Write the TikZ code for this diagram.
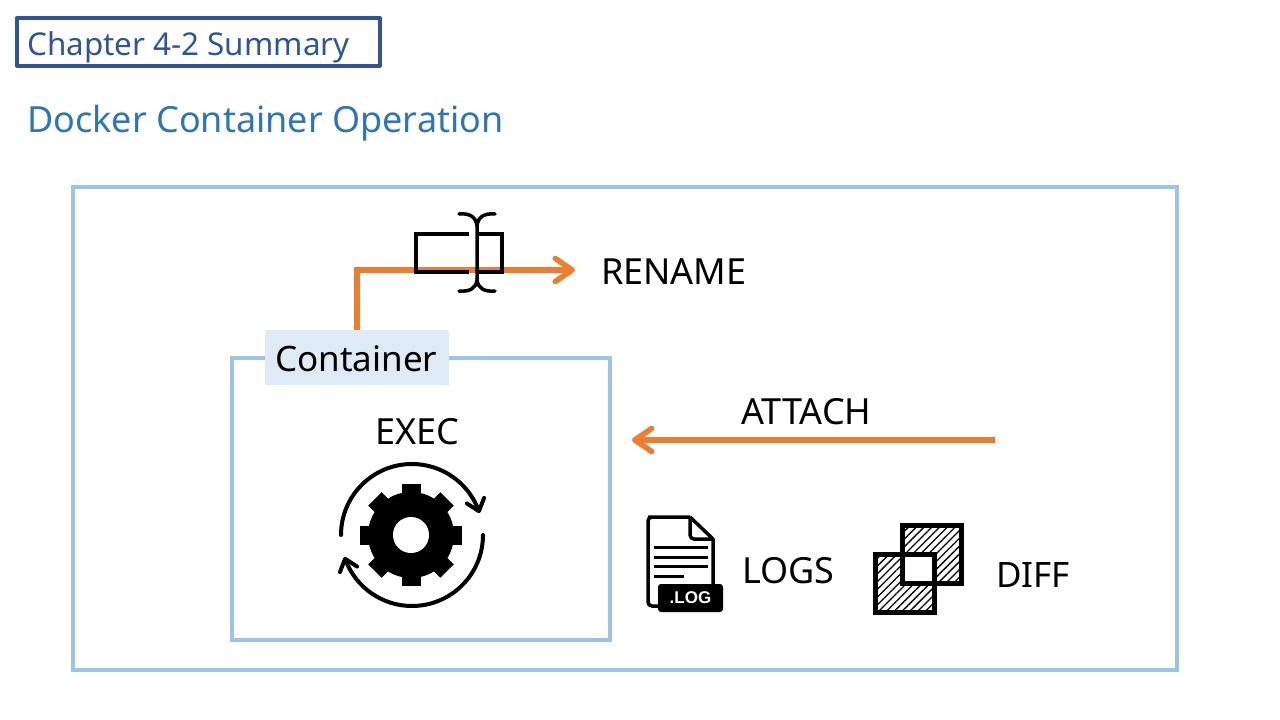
\documentclass[tikz,border=0pt]{standalone}
\usepackage{fontspec}
\setmainfont{Noto Sans}
\newfontfamily\logfont{Liberation Sans}
\usetikzlibrary{arrows.meta,bending,calc,patterns.meta}
\definecolor{frameblue}{HTML}{9DC3E6}
\definecolor{titleblue}{HTML}{2F5597}
\definecolor{headblue}{HTML}{2E75B6}
\definecolor{labelblue}{HTML}{DEEBF7}
\definecolor{arroworange}{HTML}{ED7D31}
\tikzset{
  frame/.style={draw=frameblue,line width=4.2pt,outer sep=0pt},
  flow/.style={draw=arroworange,line width=5.5pt,-{Straight Barb[length=17pt,width=23pt,line width=5.5pt,round]}},
  word/.style={inner sep=0pt,font=\fontsize{36}{42}\selectfont},
  spin/.style={line width=4pt,line cap=round,-{Straight Barb[length=11pt,width=18pt,line width=4pt,round,flex=0]}},
  hatch/.style={pattern={Lines[angle=45,distance=5.5pt,line width=1.3pt]}},
}
\begin{document}
\begin{tikzpicture}[x=1pt,y=-1pt]
\useasboundingbox (0,0) rectangle (1280,720);
\node[draw=titleblue,line width=4pt,line join=round,outer sep=0pt,minimum width=363pt,minimum height=47.5pt,anchor=north west] at (17,18) (chap) {};
\node[anchor=mid west,inner sep=0pt,text=titleblue,font=\fontsize{31.4}{38}\selectfont] at (27,53) (chaptxt) {Chapter 4-2 Summary};
\node[anchor=mid west,inner sep=0pt,text=headblue,font=\fontsize{36}{44}\selectfont] at (27,130) (head) {Docker Container Operation};
\node[frame,minimum width=1103.7pt,minimum height=482.4pt,anchor=north west] at (73.3,187.3) (outer) {};
\node[frame,minimum width=378pt,minimum height=282pt,anchor=north west] at (232,358) (box) {};
\node[fill=labelblue,minimum width=184pt,minimum height=55pt,anchor=north west,inner sep=0pt,outer sep=0pt] at (265,330) (cont) {};
\node[word,font=\fontsize{35}{42}\selectfont,anchor=mid west] at (275,369) (conttxt) {Container};
\node[word,anchor=mid west] at (601,282) (rename) {RENAME};
\node[word,anchor=mid west] at (741,422) (attach) {ATTACH};
\node[word,anchor=mid west] at (375,442) (exec) {EXEC};
\node[word,anchor=mid west] at (742,581) (logs) {LOGS};
\node[word,font=\fontsize{35}{42}\selectfont,anchor=mid west] at (996,585) (diff) {DIFF};
\coordinate (renameend) at (575,270);
\coordinate (attachstart) at (995,440);
\coordinate (attachend) at (632,440);
\draw[flow] (cont.north -| 357,0) |- (renameend);
\draw[flow] (attachstart) -- (attachend);
% rename icon
\draw[line width=3.5pt] (469,234) -- (416,234) -- (416,272) -- (469,272);
\draw[line width=3.5pt] (478,234) -- (502,234) -- (502,272) -- (478,272);
\draw[line width=3.5pt,line cap=round] (459,214) .. controls (470,213) and (476,217) .. (477,226) -- (477,280) .. controls (476,288) and (470,292) .. (459,291);
\draw[line width=3.5pt,line cap=round] (495,214) .. controls (484,213) and (478,217) .. (477,226) (477,280) .. controls (478,288) and (484,292) .. (495,291);
% gear
\coordinate (gear) at (411,535);
\fill (gear) circle (43);
\foreach \a in {0,45,...,315}
  \fill[rotate around={\a:(gear)}] ($(gear)+(-9.5,-51)$) rectangle ($(gear)+(9.5,-30)$);
\fill[white] (gear) circle (18);
\draw[spin] (341,535) arc[start angle=180,end angle=342,radius=71];
\draw[spin] (483,535) arc[start angle=0,end angle=162,radius=71];
% log file
\draw[line width=3.5pt,rounded corners=4pt] (690,517) -- (652,517) -- (648,517) -- (648,606) -- (665,606);
\draw[line width=3.5pt,line join=round] (690,517) -- (713,539) -- (713,590);
\draw[line width=3.5pt,rounded corners=4pt] (690,517) -- (690,539) -- (713,539);
\foreach \y in {547,557,566}
  \draw[line width=3pt] (654,\y) -- (708,\y);
\draw[line width=3pt] (654,576) -- (684,576);
\node[fill=black,text=white,rounded corners=3pt,minimum width=65pt,minimum height=28pt,inner sep=0pt,outer sep=0pt,anchor=north west,font=\logfont\bfseries\fontsize{17}{20}\selectfont] at (658,584) (logtag) {.LOG\hspace{5pt}};
% diff squares
\draw[hatch] (902.5,525.5) rectangle (961,583);
\draw[hatch] (875.5,554.5) rectangle (934,612);
\fill[white] (902.5,554.5) rectangle (934,583);
\draw[line width=5pt,line join=miter] (902.5,525.5) rectangle (961,583);
\draw[line width=5pt,line join=miter] (875.5,554.5) rectangle (934,612);
\end{tikzpicture}
\end{document}
